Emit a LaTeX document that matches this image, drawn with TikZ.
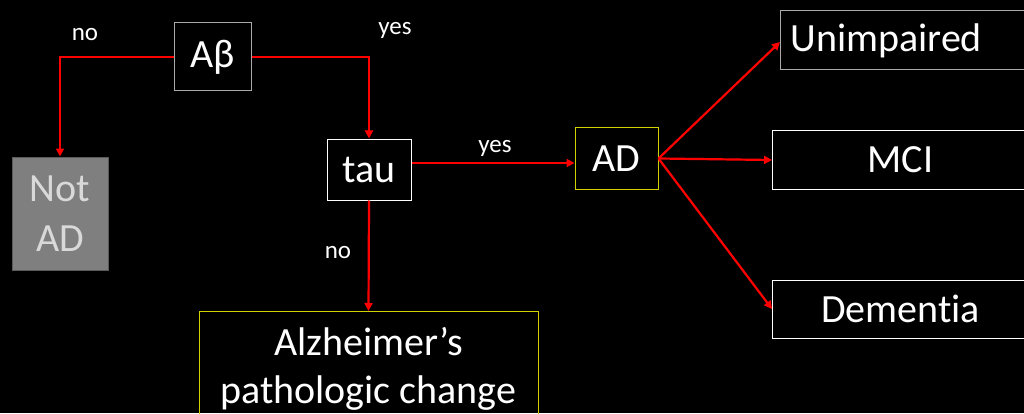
\documentclass[tikz,border=0pt]{standalone}
\usepackage{fontspec}
\setmainfont[RawFeature={-liga;-dlig;-clig}]{Carlito}
\usetikzlibrary{arrows.meta,positioning}
\definecolor{boxgray}{RGB}{170,170,170}
\definecolor{notfill}{RGB}{127,127,127}
\definecolor{notline}{RGB}{90,90,90}
\definecolor{nottext}{RGB}{217,217,217}
\definecolor{ylw}{RGB}{210,210,0}
\tikzset{
  box/.style={draw=white, line width=1pt, text=white, inner sep=0pt, align=center,
    font=\fontsize{40}{48}\selectfont},
  lbl/.style={text=white, inner sep=0pt, font=\fontsize{25}{30}\selectfont},
  arr/.style={draw=red, line width=2.2pt, -{Triangle[length=8pt,width=8pt]}}
}
\begin{document}
\begin{tikzpicture}[x=1pt,y=1pt]
\fill[black] (0,0) rectangle (1024,413);
\useasboundingbox (0,0) rectangle (1024,413);
\clip (0,0) rectangle (1024,413);
\node[box, draw=boxgray, minimum width=77pt, minimum height=68pt] (ab) at (212.5,356) {Aβ};
\node[box, draw=notline, fill=notfill, text=nottext, minimum width=96pt, minimum height=113pt, font=\fontsize{40}{50}\selectfont] (notad) at (60,199.5) {Not\\AD};
\node[box, minimum width=84pt, minimum height=61pt] (tau) at (369,243.5) {tau};
\node[box, draw=ylw, minimum width=339pt, minimum height=115pt, anchor=north] (alz) at (368.5,102) {Alzheimer’s\\pathologic change};
\node[box, draw=ylw, minimum width=83pt, minimum height=61pt] (ad) at (616.5,254.5) {AD};
\node[box, draw=boxgray, anchor=west, minimum height=59pt, text width=240pt, align=left, inner xsep=10pt] (unimp) at (780,372.5) {\raisebox{-4pt}{Unimpaired}};
\node[box, anchor=west, minimum width=256pt, minimum height=58pt] (mci) at (772,253) {MCI};
\node[box, anchor=west, minimum width=256pt, minimum height=58pt] (dem) at (772,104) {Dementia};
\node[lbl] (l1) at (85,378) {no};
\node[lbl] (l2) at (395,383) {yes};
\node[lbl] (l3) at (495,265) {yes};
\node[lbl] (l4) at (338,160) {no};
\draw[arr] (ab.west) -| (notad.north);
\draw[arr] (ab.east) -| (tau.north);
\draw[arr] ([yshift=6.5pt]tau.east) -- ([yshift=-4.5pt]ad.west);
\draw[arr] (tau.south) -- (alz.north);
\draw[arr] (ad.east) -- ([yshift=-1.5pt]unimp.west);
\draw[arr] (ad.east) -- (mci.west);
\draw[arr] (ad.east) -- (dem.west);
\end{tikzpicture}
\end{document}
